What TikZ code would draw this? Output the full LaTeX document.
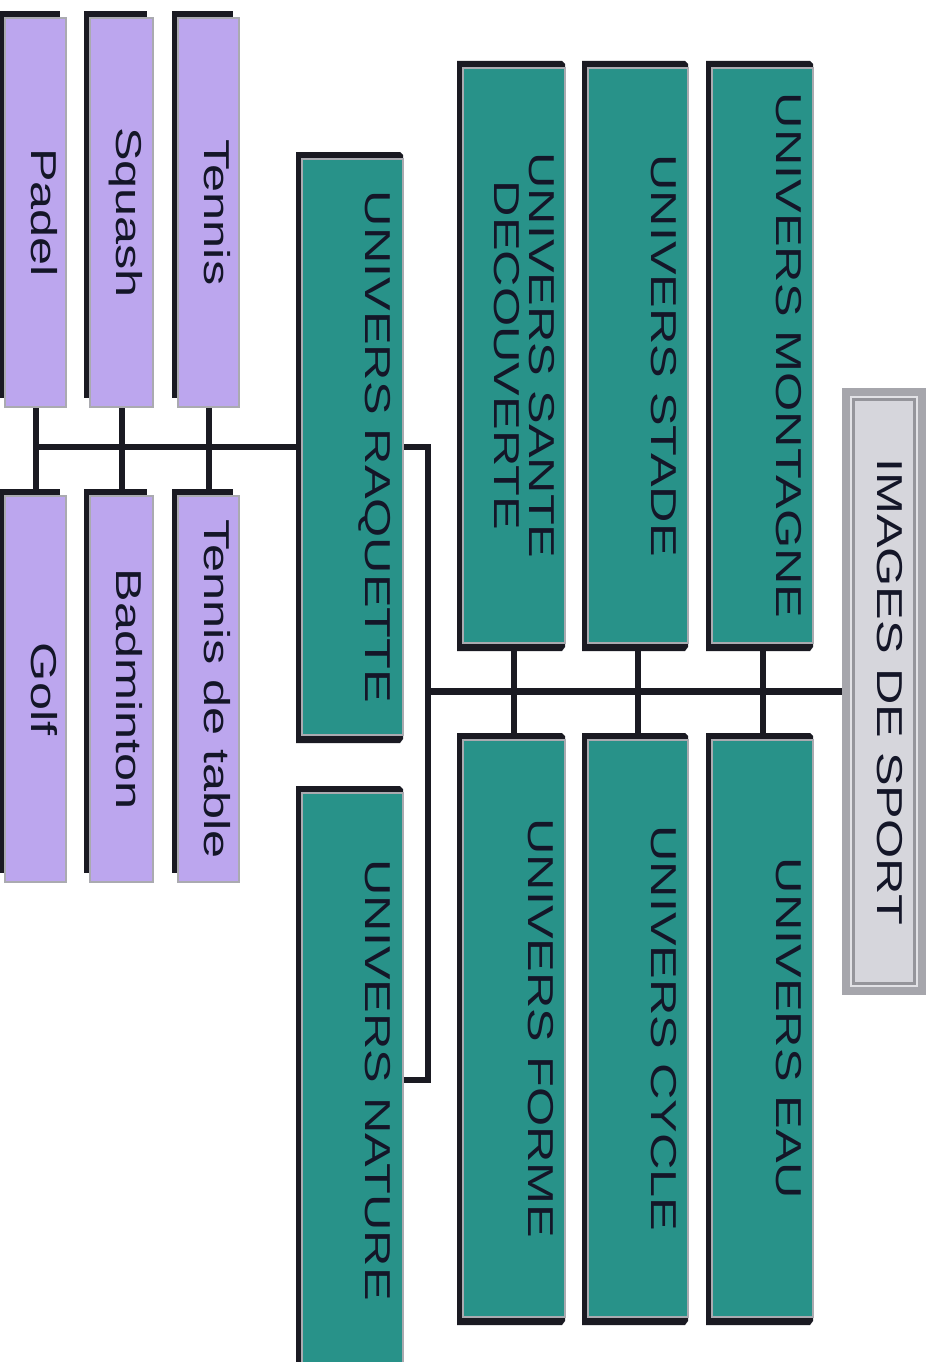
\documentclass[tikz,border=0pt]{standalone}
\usepackage{fontspec}
\setmainfont{Liberation Sans}
\usepackage{graphicx}
\usetikzlibrary{backgrounds,calc}
\definecolor{teal1}{RGB}{40,146,137}
\definecolor{lav}{RGB}{188,166,238}
\definecolor{shd}{RGB}{26,26,34}
\definecolor{edge}{RGB}{170,170,176}
\definecolor{ink}{RGB}{20,22,40}
\definecolor{gout}{RGB}{166,166,172}
\definecolor{gin}{RGB}{214,214,220}
\definecolor{glight}{RGB}{226,226,230}
\newcommand\wide[1]{\scalebox{1.4}[1]{#1}}
\newcommand\rectnode[6]{\node[#1, minimum width={#5-#3}, minimum height={#6-#4}] (#2) at ({(#3+#5)/2},{(#4+#6)/2}) {};}
\newcommand\tshadow[1]{\fill[shd] ($(#1.north west)+(-6,-7)$) -- ($(#1.north east)+(-3,-7)$) -- ($(#1.north east)+(0,-4)$) -- ($(#1.south east)+(0,4)$) -- ($(#1.south east)+(-3,8)$) -- ($(#1.south west)+(-6,8)$) -- cycle;}
\newcommand\pshadow[1]{\fill[shd] ($(#1.north west)+(-6,-7)$) rectangle ($(#1.south east)+(-6,-9)$);}
\begin{document}
\begin{tikzpicture}[x=1pt,y=-1pt,
  box/.style={draw=edge, line width=1.2pt, inner sep=0pt, outer sep=0pt},
  tealbox/.style={box, fill=teal1},
  lavbox/.style={box, fill=lav},
  lbl/.style={rotate=-90, inner sep=0pt, text=ink, font=\fontsize{36}{35}\selectfont},
  link/.style={draw=shd, line width=6pt, line join=miter},
  mainlink/.style={draw=shd, line width=7pt}]
\useasboundingbox (0,0) rectangle (933,1362);

% boxes
\rectnode{tealbox}{sante}{463}{68}{565}{643}
\rectnode{tealbox}{stade}{588}{68}{688}{643}
\rectnode{tealbox}{mont}{712}{68}{813}{643}
\rectnode{tealbox}{forme}{463}{740}{565}{1317}
\rectnode{tealbox}{cycle}{588}{740}{688}{1317}
\rectnode{tealbox}{eau}{712}{740}{813}{1317}
\rectnode{tealbox}{raq}{302}{159}{403}{735}
\rectnode{tealbox}{nat}{302}{793}{403}{1367}
\rectnode{lavbox}{padel}{5}{18}{66}{407}
\rectnode{lavbox}{squash}{90}{18}{153}{407}
\rectnode{lavbox}{tennis}{178}{18}{239}{407}
\rectnode{lavbox}{golf}{5}{496}{66}{882}
\rectnode{lavbox}{badm}{90}{496}{153}{882}
\rectnode{lavbox}{tdt}{178}{496}{239}{882}
\node[inner sep=0pt, outer sep=0pt, fill=gout, minimum width=84, minimum height=607] (img) at (884,691.5) {};
\fill[glight] ($(img.north west)+(8,8)$) rectangle ($(img.south east)+(-8,-8)$);
\fill[gout!90!black] ($(img.north west)+(10,10)$) rectangle ($(img.south east)+(-10,-10)$);
\fill[gin] ($(img.north west)+(13,13)$) rectangle ($(img.south east)+(-13,-13)$);

% labels
\node[lbl, anchor=base] (limg) at (877,691.5) {\wide{IMAGES DE SPORT}};
\node[lbl, anchor=base] (lmont) at (776,355.5) {\wide{UNIVERS MONTAGNE}};
\node[lbl, anchor=base] (leau) at (776,1028.5) {\wide{UNIVERS EAU}};
\node[lbl, anchor=base] (lstade) at (651,355.5) {\wide{UNIVERS STADE}};
\node[lbl, anchor=base] (lcycle) at (651,1028.5) {\wide{UNIVERS CYCLE}};
\node[lbl, anchor=north, align=center] (lsante) at (555,355.5) {\wide{UNIVERS SANTE}\\\wide{DECOUVERTE}};
\node[lbl, anchor=base] (lforme) at (528,1028.5) {\wide{UNIVERS FORME}};
\node[lbl, anchor=base] (lraq) at (365,447) {\wide{UNIVERS RAQUETTE}};
\node[lbl, anchor=base] (lnat) at (365,1080) {\wide{UNIVERS NATURE}};
\node[lbl, anchor=base] (lpadel) at (31,212.5) {\wide{Padel}};
\node[lbl, anchor=base] (lsquash) at (116,212.5) {\wide{Squash}};
\node[lbl, anchor=base] (ltennis) at (204,212.5) {\wide{Tennis}};
\node[lbl, anchor=base] (lgolf) at (31,689) {\wide{Golf}};
\node[lbl, anchor=base] (lbadm) at (116,689) {\wide{Badminton}};
\node[lbl, anchor=base] (ltdt) at (204,689) {\wide{Tennis de table}};

\begin{scope}[on background layer]
  \coordinate (J) at (428,691.5);
  \coordinate (JT) at (428,447);
  \coordinate (JB) at (428,1080);
  \coordinate (PL) at (35.5,447);
  \draw[mainlink] (img.west) -- (J);
  \draw[link] (raq.east) -- (JT) -- (JB) -- (nat.east);
  \draw[link] (mont.south) -- (eau.north);
  \draw[link] (stade.south) -- (cycle.north);
  \draw[link] (sante.south) -- (forme.north);
  \draw[link] (PL) -- (raq.west);
  \draw[link] (padel.south) -- (golf.north);
  \draw[link] (squash.south) -- (badm.north);
  \draw[link] (tennis.south) -- (tdt.north);
  \tshadow{sante}\tshadow{stade}\tshadow{mont}
  \tshadow{forme}\tshadow{cycle}\tshadow{eau}
  \tshadow{raq}\tshadow{nat}
  \pshadow{padel}\pshadow{squash}\pshadow{tennis}
  \pshadow{golf}\pshadow{badm}\pshadow{tdt}
\end{scope}
\end{tikzpicture}
\end{document}
